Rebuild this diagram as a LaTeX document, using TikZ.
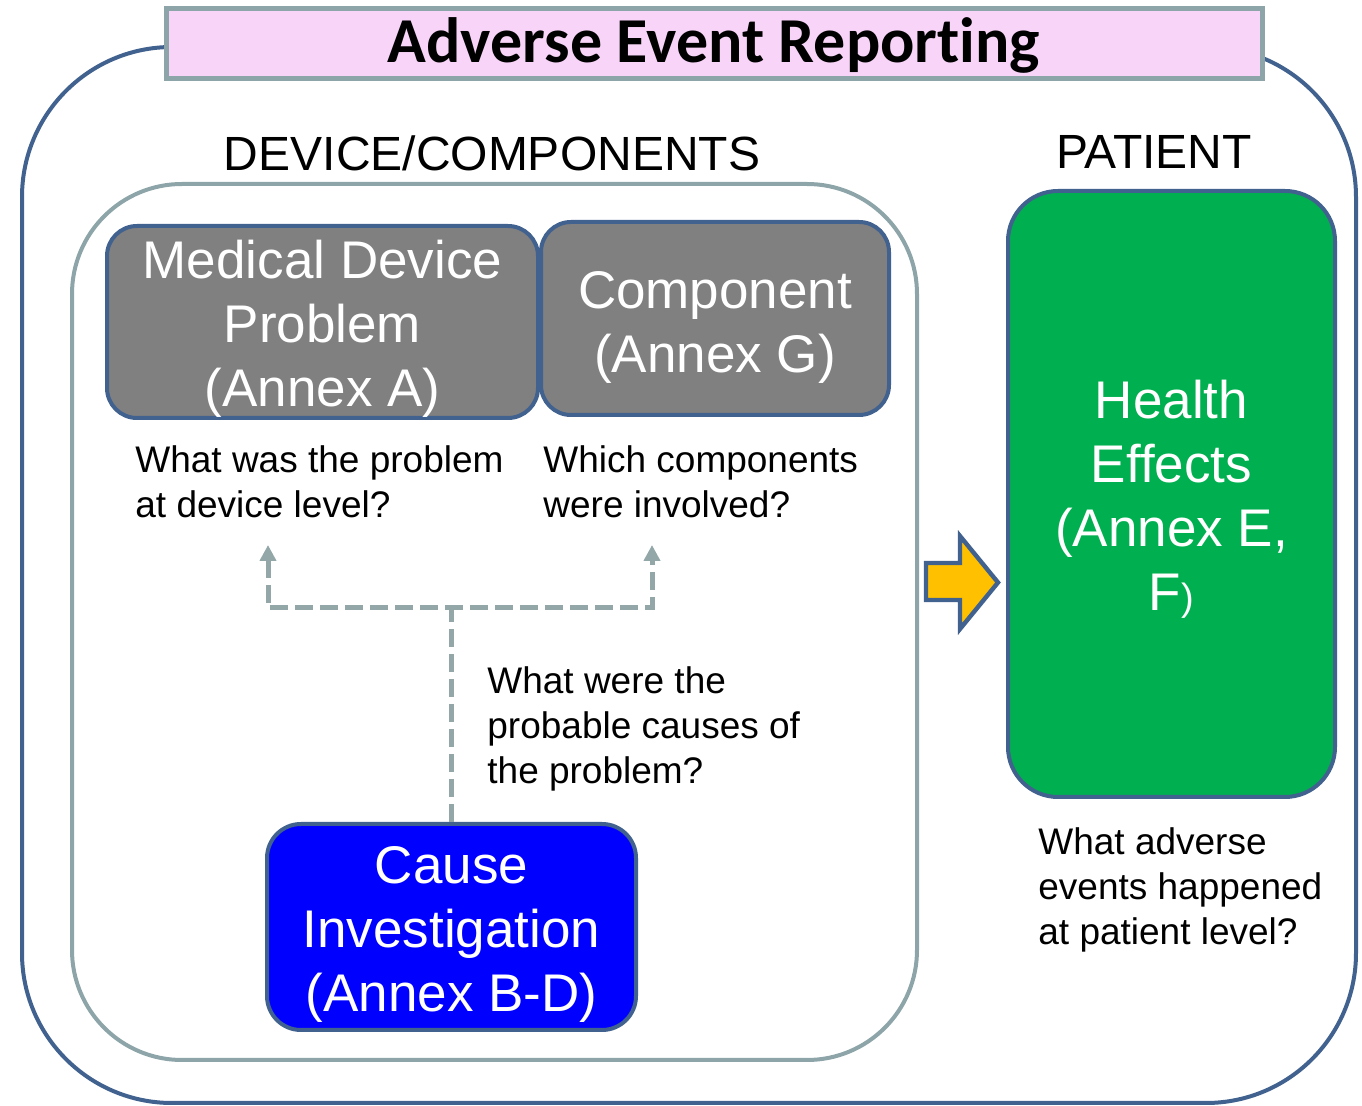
\documentclass[tikz,border=0pt]{standalone}
\usepackage{fontspec}
\setmainfont{Liberation Sans}
\newfontfamily\titlefont{Carlito}[Ligatures=NoCommon]
\usetikzlibrary{arrows.meta}
\definecolor{outerblue}{HTML}{41618F}
\definecolor{framegray}{HTML}{8DA5A8}
\definecolor{titlepink}{HTML}{F8D4F8}
\definecolor{boxgray}{HTML}{808080}
\definecolor{boxgreen}{HTML}{00B050}
\definecolor{boxblue}{HTML}{0000FF}
\definecolor{arrowyellow}{HTML}{FFC000}
\definecolor{dashgray}{HTML}{93A7A9}
\tikzset{
  box/.style={draw=outerblue, line width=2pt, rounded corners=15pt, inner sep=0pt},
  boxtext/.style={text=white, align=center, inner sep=0pt,
    font=\fontsize{26.5}{32}\selectfont},
  question/.style={anchor=north west, inner sep=0pt, align=left,
    font=\fontsize{18.5}{22.5}\selectfont},
  heading/.style={inner sep=0pt, font=\fontsize{24}{29}\selectfont},
  dashline/.style={draw=dashgray, line width=2.5pt, dash pattern=on 9pt off 3.5pt},
  mytip/.tip={Triangle[width=8pt,length=8pt]}
}
\begin{document}
\begin{tikzpicture}[x=0.5pt,y=-0.5pt]
\useasboundingbox (0,0) rectangle (1362,1106);
% outer frame
\draw[outerblue, line width=2pt, rounded corners=75pt] (22,47) rectangle (1356,1103);
% title
\node[draw=framegray, fill=titlepink, line width=2.5pt, minimum width=548pt,
  minimum height=35pt, inner sep=0pt] (titlebox) at (714,44) {};
\node[anchor=base, inner sep=0pt, font=\titlefont\bfseries\fontsize{32}{38}\selectfont]
  (title) at (714,63) {Adverse Event Reporting};
% headings
\node[heading] (devhead) at (492,153) {DEVICE/COMPONENTS};
\node[heading] (pathead) at (1154,152) {PATIENT};
% device frame
\draw[framegray, line width=2pt, rounded corners=55pt] (72,184) rectangle (917,1060);
% boxes
\node[box, fill=boxgray, minimum width=215.5pt, minimum height=96pt] (mdp) at (322.5,322) {};
\node[boxtext, yshift=-3.5pt] (mdptext) at (mdp.center) {Medical Device\\Problem\\(Annex A)};
\node[box, fill=boxgray, minimum width=174pt, minimum height=96.5pt] (comp) at (715,318.5) {};
\node[boxtext, yshift=-4.5pt] (comptext) at (comp.center) {Component\\(Annex G)};
\node[box, fill=boxgreen, rounded corners=25pt, minimum width=163.5pt, minimum height=303pt]
  (health) at (1171.5,494) {};
\node[boxtext, yshift=-2.5pt] (healthtext) at (health.center)
  {Health\\Effects\\(Annex E,\\F{\fontsize{19}{32}\selectfont)}};
\node[box, fill=boxblue, rounded corners=17pt, minimum width=184.5pt, minimum height=103pt]
  (cause) at (451.5,927) {};
\node[boxtext, yshift=-3.5pt] (causetext) at (cause.center) {Cause\\Investigation\\(Annex B-D)};
% questions
\node[question] (q1) at (135,445) {What was the problem\\at device level?};
\node[question] (q2) at (543,445) {Which components\\were involved?};
\node[question] (q3) at (487,666) {What were the\\probable causes of\\the problem?};
\node[question] (q4) at (1038,827) {What adverse\\events happened\\at patient level?};
% dashed connectors
\coordinate (j) at (451.5,608);
\coordinate (jl) at (268,608);
\coordinate (jr) at (652,608);
\coordinate (tl) at (268,545);
\coordinate (tr) at (652,545);
\draw[dashline] (cause.north) -- (j);
\draw[dashline, mytip-mytip] (tl) -- (jl) -- (jr) -- (tr);
% yellow block arrow
\draw[fill=arrowyellow, draw=outerblue, line width=2.2pt, line join=miter]
  (926,563) -- (960,563) -- (960,536) -- (998,582.5) -- (960,629) -- (960,600) -- (926,600) -- cycle;
\end{tikzpicture}
\end{document}
